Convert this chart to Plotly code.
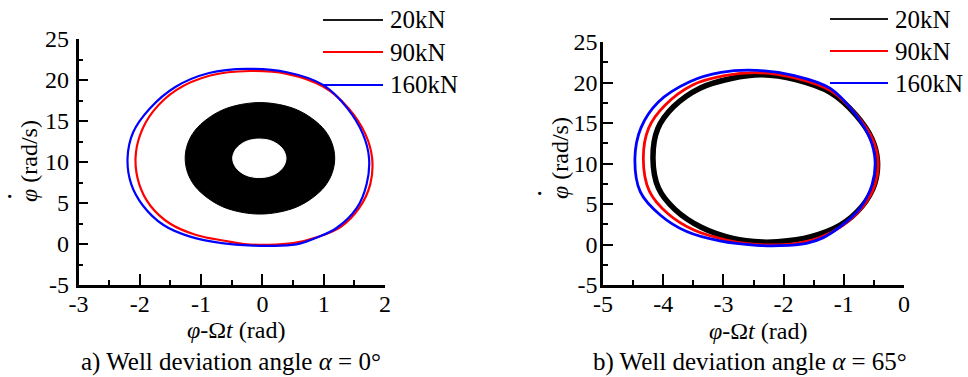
import plotly.graph_objects as go

# ---------------- data ----------------
series_names = ["20kN", "90kN", "160kN"]
series_colors = ["#1a1a1a", "red", "blue"]

# Panel a) alpha = 0 deg : 20kN fills an annulus (outer boundary, inner hole)
a_black_outer_x = [-0.04, 0.28, 0.57, 0.82, 1.02, 1.14, 1.18, 1.14, 1.02, 0.82, 0.57, 0.28, -0.04,
                   -0.36, -0.65, -0.90, -1.10, -1.22, -1.26, -1.22, -1.10, -0.90, -0.65, -0.36, -0.04]
a_black_outer_y = [17.25, 17.0, 16.35, 15.25, 13.85, 12.2, 10.45, 8.7, 7.05, 5.65, 4.55, 3.9, 3.65,
                   3.9, 4.55, 5.65, 7.05, 8.7, 10.45, 12.2, 13.85, 15.25, 16.35, 17.0, 17.25]
a_black_inner_x = [-0.05, 0.17, 0.33, 0.385, 0.33, 0.17, -0.05, -0.27, -0.43, -0.485, -0.43, -0.27, -0.05]
a_black_inner_y = [12.8, 12.5, 11.6, 10.45, 9.3, 8.4, 8.1, 8.4, 9.3, 10.45, 11.6, 12.5, 12.8]

a_red_x = [-0.20, 0.40, 0.99, 1.40, 1.68, 1.79, 1.76, 1.58, 1.28, 0.90, 0.50, 0.10, -0.30, -0.62, -1.08, -1.51, -1.83, -2.01, -2.07, -1.99, -1.78, -1.40, -0.85, -0.20]
a_red_y = [21.1, 20.75, 19.2, 16.6, 13.4, 10.45, 7.3, 4.4, 2.1, 0.85, 0.1, -0.1, 0.0, 0.4, 1.1, 2.5, 4.7, 7.3, 10.45, 13.4, 16.2, 18.8, 20.55, 21.1]

a_blue_x = [-0.25, 0.40, 0.99, 1.38, 1.64, 1.74, 1.70, 1.54, 1.21, 0.88, 0.61, 0.30, -0.15, -0.66, -1.18, -1.62, -1.95, -2.14, -2.20, -2.11, -1.84, -1.42, -0.87, -0.25]
a_blue_y = [21.35, 20.95, 19.4, 16.6, 13.4, 10.45, 7.3, 4.4, 1.95, 0.75, 0.05, -0.2, -0.2, 0.1, 0.9, 2.35, 4.7, 7.3, 10.45, 13.6, 16.5, 19.15, 20.85, 21.35]

# Panel b) alpha = 65 deg
b_black_x = [-2.35, -1.80, -1.22, -0.80, -0.53, -0.44, -0.49, -0.70, -1.06, -1.56, -2.10, -2.35, -2.84, -3.36, -3.80, -4.08, -4.17, -4.09, -3.83, -3.39, -2.87, -2.35]
b_black_y = [20.95, 20.35, 18.75, 16.0, 13.0, 10.3, 7.4, 4.7, 2.4, 0.95, 0.35, 0.3, 0.75, 2.1, 4.3, 7.0, 10.6, 14.3, 17.0, 19.3, 20.5, 20.95]

b_red_x = [-2.40, -1.80, -1.22, -0.80, -0.52, -0.43, -0.48, -0.68, -1.01, -1.40, -1.78, -2.23, -2.60, -2.95, -3.48, -3.92, -4.23, -4.33, -4.24, -3.97, -3.51, -2.98, -2.40]
b_red_y = [21.2, 20.55, 19.0, 16.1, 13.0, 10.3, 7.4, 4.7, 2.4, 0.85, 0.15, -0.05, 0.1, 0.55, 1.75, 3.8, 6.6, 10.6, 14.4, 17.2, 19.7, 20.85, 21.2]

b_blue_x = [-2.45, -1.82, -1.23, -0.82, -0.56, -0.48, -0.53, -0.73, -1.06, -1.34, -1.62, -2.06, -2.45, -3.06, -3.61, -4.05, -4.38, -4.47, -4.37, -4.08, -3.56, -3.04, -2.45]
b_blue_y = [21.5, 20.85, 19.3, 16.2, 13.0, 10.3, 7.4, 4.5, 2.2, 0.85, 0.15, -0.15, -0.1, 0.45, 1.6, 3.65, 6.5, 10.6, 14.4, 17.6, 20.1, 21.25, 21.5]

# axes / ticks
a_xticks = [-3, -2, -1, 0, 1, 2]
b_xticks = [-5, -4, -3, -2, -1, 0]
yticks = [-5, 0, 5, 10, 15, 20, 25]

FONT = "Liberation Serif"
W, H = 968, 377

fig = go.Figure()

def curve(x, y, color, width, xa, ya, **kw):
    fig.add_trace(go.Scatter(x=x, y=y, mode="lines", showlegend=False, xaxis=xa, yaxis=ya, hoverinfo="skip",
                             line=dict(color=color, width=width, shape="spline", smoothing=1.0), **kw))

# panel a traces
curve(a_black_outer_x, a_black_outer_y, "black", 1, "x", "y", fill="toself", fillcolor="black")
curve(a_black_inner_x, a_black_inner_y, "white", 1, "x", "y", fill="toself", fillcolor="white")
curve(a_red_x, a_red_y, "red", 2.2, "x", "y")
curve(a_blue_x, a_blue_y, "blue", 2.2, "x", "y")

# panel b traces
curve(b_black_x, b_black_y, "black", 5.5, "x2", "y2")
curve(b_red_x, b_red_y, "red", 2.8, "x2", "y2")
curve(b_blue_x, b_blue_y, "blue", 2.8, "x2", "y2")

def xaxis(dom, rng, ticks, anchor):
    return dict(domain=dom, range=rng, anchor=anchor, showgrid=False, zeroline=False, automargin=False,
                showline=True, linecolor="black", linewidth=2.5,
                ticks="inside", ticklen=11, tickwidth=2, tickcolor="black",
                tickvals=ticks, ticktext=[str(t) for t in ticks],
                minor=dict(ticks="inside", ticklen=5, tickwidth=2, tickcolor="black", dtick=0.5, showgrid=False),
                tickfont=dict(family=FONT, size=24, color="black"), ticklabelstandoff=-5, fixedrange=True)

def yaxis(dom, anchor, standoff):
    return dict(domain=dom, range=[-5, 25], anchor=anchor, showgrid=False, zeroline=False, automargin=False,
                showline=True, linecolor="black", linewidth=2.5,
                ticks="inside", ticklen=10, tickwidth=2, tickcolor="black",
                tickvals=yticks, ticktext=[str(t) for t in yticks],
                minor=dict(ticks="inside", ticklen=5, tickwidth=2, tickcolor="black", dtick=2.5, showgrid=False),
                tickfont=dict(family=FONT, size=24, color="black"), ticklabelstandoff=standoff, fixedrange=True)

fig.update_layout(
    template="none",
    width=W, height=H, margin=dict(l=0, r=0, t=0, b=0, autoexpand=False),
    paper_bgcolor="white", plot_bgcolor="white",
    font=dict(family=FONT, size=24, color="black"),
    xaxis=xaxis([78.5 / W, 385 / W], [-3, 2], a_xticks, "y"),
    yaxis=yaxis([(H - 285) / H, (H - 39) / H], "x", 2),
    xaxis2=xaxis([603 / W, 904 / W], [-5, 0], b_xticks, "y2"),
    yaxis2=yaxis([(H - 285) / H, (H - 42) / H], "x2", -2),
    showlegend=False,
)

def ann(text, px, py, angle=0, size=24, xanchor="center"):
    fig.add_annotation(text=text, x=px / W, y=(H - py) / H, xref="paper", yref="paper",
                       xanchor=xanchor, yanchor="middle", showarrow=False, textangle=angle,
                       font=dict(family=FONT, size=size, color="black"))

# legends (drawn as key lines + labels in paper space)
for (lx0, lx1, tx, rows) in [(323, 383, 388, [20, 52, 85]), (830, 888, 893, [19, 51, 83])]:
    for name, col, ry in zip(series_names, series_colors, rows):
        fig.add_shape(type="line", xref="paper", yref="paper", x0=lx0 / W, x1=lx1 / W,
                      y0=(H - ry) / H, y1=(H - ry) / H, line=dict(color=col, width=2))
        ann(name, tx, ry, size=25, xanchor="left")

# axis titles
ann("<i>φ</i>-Ω<i>t</i> (rad)", 236, 330)
ann("<i>φ</i>-Ω<i>t</i> (rad)", 758, 331)
ann("<i>φ</i> (rad/s)", 29, 161, angle=-90)
ann("<i>φ</i> (rad/s)", 560, 158, angle=-90)
ann("·", 9, 196, size=28)
ann("·", 539, 193, size=28)
# captions
ann("a) Well deviation angle <i>α</i> = 0°", 231, 362, size=25)
ann("b) Well deviation angle <i>α</i> = 65°", 750, 362, size=25)

fig.write_html("out.html")
